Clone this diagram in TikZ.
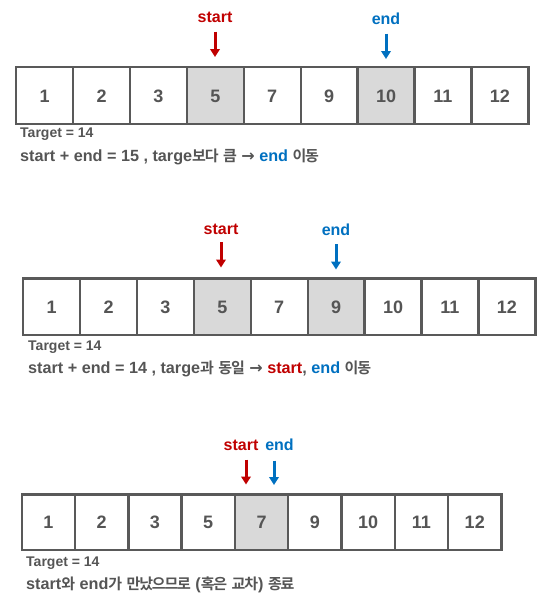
\documentclass[tikz,border=0pt]{standalone}
\usepackage{fontspec}
\setmainfont{Liberation Sans}
\newfontfamily\krfont{Noto Sans CJK KR}[BoldFont={* Bold},LetterSpace=-8]
\newfontfamily\arrfont{DejaVu Sans}
\newcommand{\kr}[1]{{\krfont\bfseries\fontsize{15}{15}\selectfont #1}}
\newcommand{\rarr}{{\arrfont\bfseries\fontsize{16}{16}\selectfont →}}
\usetikzlibrary{arrows.meta}
\definecolor{txt}{HTML}{555555}
\definecolor{edge}{HTML}{595959}
\definecolor{hl}{HTML}{D9D9D9}
\definecolor{sred}{HTML}{C00000}
\definecolor{eblue}{HTML}{0070C0}
\begin{document}
\begin{tikzpicture}[x=1pt,y=-1pt,
  cell/.style={draw=edge,line width=2.4pt,inner sep=0pt,minimum height=#1,text height=13pt,text depth=0pt,text=txt,font=\bfseries\fontsize{18}{18}\selectfont},
  ptr/.style={line width=3pt,-{Triangle[width=9.5pt,length=8pt]}},
  lab/.style={inner sep=0pt,font=\bfseries\fontsize{16}{16}\selectfont},
  note/.style={anchor=west,inner sep=0pt,text=txt,font=\bfseries\fontsize{#1}{#1}\selectfont}]
\useasboundingbox (0,0) rectangle (558,611);
% ---------- row 1 ----------
\foreach \v/\f [count=\i] in {1/white,2/white,3/white,5/hl,7/white,9/white,10/hl,11/white,12/white}
  \node[cell=56.5pt,minimum width=56.9pt,fill=\f] (a\i) at ({16.2+(\i-0.5)*56.9},95.5) {\v};
\node[lab,text=sred] (sa) at (215,17) {start};
\node[lab,text=eblue] (ea) at (386,19) {end};
\coordinate (sa1) at (215,31.5); \coordinate (sa2) at (215,57);
\coordinate (ea1) at (386,33.5); \coordinate (ea2) at (386,59);
\draw[ptr,sred] (sa1) -- (sa2);
\draw[ptr,eblue] (ea1) -- (ea2);
\node[note=14] (ta) at (20,134) {Target = 14};
\node[note=16.2] (ma) at (20,157) {start + end = 15 , targe\kr{보다} \kr{큼} \rarr{} \textcolor{eblue}{end} \kr{이동}};
% ---------- row 2 ----------
\foreach \v/\f [count=\i] in {1/white,2/white,3/white,5/hl,7/white,9/hl,10/white,11/white,12/white}
  \node[cell=56.5pt,minimum width=56.9pt,fill=\f] (b\i) at ({23.2+(\i-0.5)*56.9},306.8) {\v};
\node[lab,text=sred] (sb) at (221,229) {start};
\node[lab,text=eblue] (eb) at (336,230) {end};
\coordinate (sb1) at (221,242); \coordinate (sb2) at (221,267.5);
\coordinate (eb1) at (336,244); \coordinate (eb2) at (336,269.5);
\draw[ptr,sred] (sb1) -- (sb2);
\draw[ptr,eblue] (eb1) -- (eb2);
\node[note=14] (tb) at (28,347) {Target = 14};
\node[note=16.2] (mb) at (28,369) {start + end = 14 , targe\kr{과} \kr{동일} \rarr{} \textcolor{sred}{start}, \textcolor{eblue}{end} \kr{이동}};
% ---------- row 3 ----------
\foreach \v/\f [count=\i] in {1/white,2/white,3/white,5/white,7/hl,9/white,10/white,11/white,12/white}
  \node[cell=55.5pt,minimum width=53.3pt,fill=\f] (c\i) at ({21.7+(\i-0.5)*53.3},522.2) {\v};
\node[lab,text=sred] (sc) at (241,445) {start};
\node[lab,text=eblue] (ec) at (279.5,445) {end};
\coordinate (sc1) at (246,459.5); \coordinate (sc2) at (246,484.5);
\coordinate (ec1) at (274,460.5); \coordinate (ec2) at (274,485);
\draw[ptr,sred] (sc1) -- (sc2);
\draw[ptr,eblue] (ec1) -- (ec2);
\node[note=14] (tc) at (26,563) {Target = 14};
\node[note=16.2] (mc) at (26,585) {start\kr{와} end\kr{가} \kr{만났으므로} (\kr{혹은} \kr{교차}) \kr{종료}};
\end{tikzpicture}
\end{document}
